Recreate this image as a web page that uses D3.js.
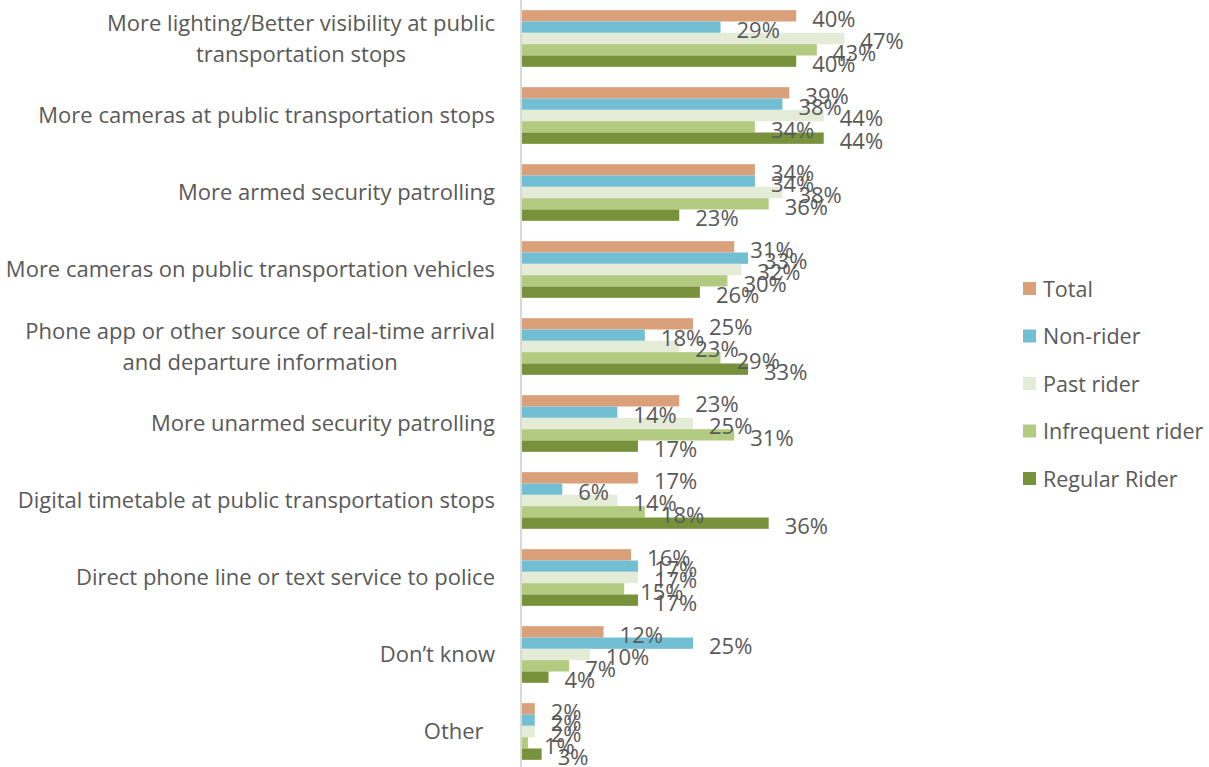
<!DOCTYPE html>
<html>
<head>
<meta charset="utf-8">
<script src="https://cdn.jsdelivr.net/npm/d3@7"></script>
<style>
  html, body { margin: 0; padding: 0; background: #fff; }
  svg { display: block; }
  text { font-family: "Open Sans", "Noto Sans", sans-serif; fill: #595959; }
</style>
</head>
<body>
<svg id="chart" width="1209" height="767"></svg>
<script>
// Survey: measures that would make respondents feel safer (share of respondents)
const categories = [
  ["More lighting/Better visibility at public", "transportation stops"],
  ["More cameras at public transportation stops"],
  ["More armed security patrolling"],
  ["More cameras on public transportation vehicles"],
  ["Phone app or other source of real-time arrival", "and departure information"],
  ["More unarmed security patrolling"],
  ["Digital timetable at public transportation stops"],
  ["Direct phone line or text service to police"],
  ["Don\u2019t know"],
  ["Other\u00a0\u00a0"]
];
const seriesNames = ["Total", "Non-rider", "Past rider", "Infrequent rider", "Regular Rider"];
const seriesColors = ["#daa07a", "#72bfd4", "#e4ecd7", "#b2cb80", "#77923b"];

const total       = [40, 39, 34, 31, 25, 23, 17, 16, 12, 2];
const nonRider    = [29, 38, 34, 33, 18, 14,  6, 17, 25, 2];
const pastRider   = [47, 44, 38, 32, 23, 25, 14, 17, 10, 2];
const infrequent  = [43, 34, 36, 30, 29, 31, 18, 15,  7, 1];
const regular     = [40, 44, 23, 26, 33, 17, 36, 17,  4, 3];
const seriesValues = [total, nonRider, pastRider, infrequent, regular];

const svg = d3.select("#chart");
const axisX = 521;

const x = d3.scaleLinear().domain([0, 100]).range([axisX, axisX + 688]);
const y = d3.scaleBand().domain(d3.range(categories.length))
  .range([0, 770]).paddingInner(0.264).paddingOuter(0.132);
const ySub = d3.scaleBand().domain(d3.range(seriesNames.length))
  .range([0, y.bandwidth()]);

// bars and value labels
categories.forEach((cat, ci) => {
  const g = svg.append("g").attr("transform", `translate(0,${y(ci)})`);
  seriesValues.forEach((vals, si) => {
    g.append("rect")
      .attr("x", x(0))
      .attr("y", ySub(si))
      .attr("width", x(vals[ci]) - x(0))
      .attr("height", ySub.bandwidth())
      .attr("fill", seriesColors[si]);
  });
  seriesValues.forEach((vals, si) => {
    g.append("text")
      .attr("x", x(vals[ci]) + 16)
      .attr("y", ySub(si) + ySub.bandwidth() / 2 + 11)
      .attr("font-size", 22)
      .text(vals[ci] + "%");
  });
});

// vertical category axis line
svg.append("line")
  .attr("x1", axisX).attr("x2", axisX)
  .attr("y1", 0).attr("y2", 767)
  .attr("stroke", "#d9d9d9").attr("stroke-width", 2);

// category labels, right aligned block with centred lines
const labelRight = 495;
const lineH = 31;
categories.forEach((lines, ci) => {
  const cy = y(ci) + y.bandwidth() / 2;
  const t = svg.append("text").attr("font-size", 22).attr("text-anchor", "middle");
  const tspans = lines.map((ln, li) =>
    t.append("tspan")
      .attr("y", cy + (li - (lines.length - 1) / 2) * lineH + 7.5)
      .text(ln));
  const maxW = d3.max(tspans, s => s.node().getComputedTextLength());
  tspans.forEach(s => s.attr("x", labelRight - maxW / 2));
});

// legend
const legend = svg.append("g");
seriesNames.forEach((name, i) => {
  const ly = 289 + i * 47.5;
  legend.append("rect")
    .attr("x", 1023).attr("y", ly - 7)
    .attr("width", 13).attr("height", 13)
    .attr("fill", seriesColors[i]);
  legend.append("text")
    .attr("x", 1043).attr("y", ly + 7.5)
    .attr("font-size", 21.5)
    .text(name);
});
</script>
</body>
</html>
